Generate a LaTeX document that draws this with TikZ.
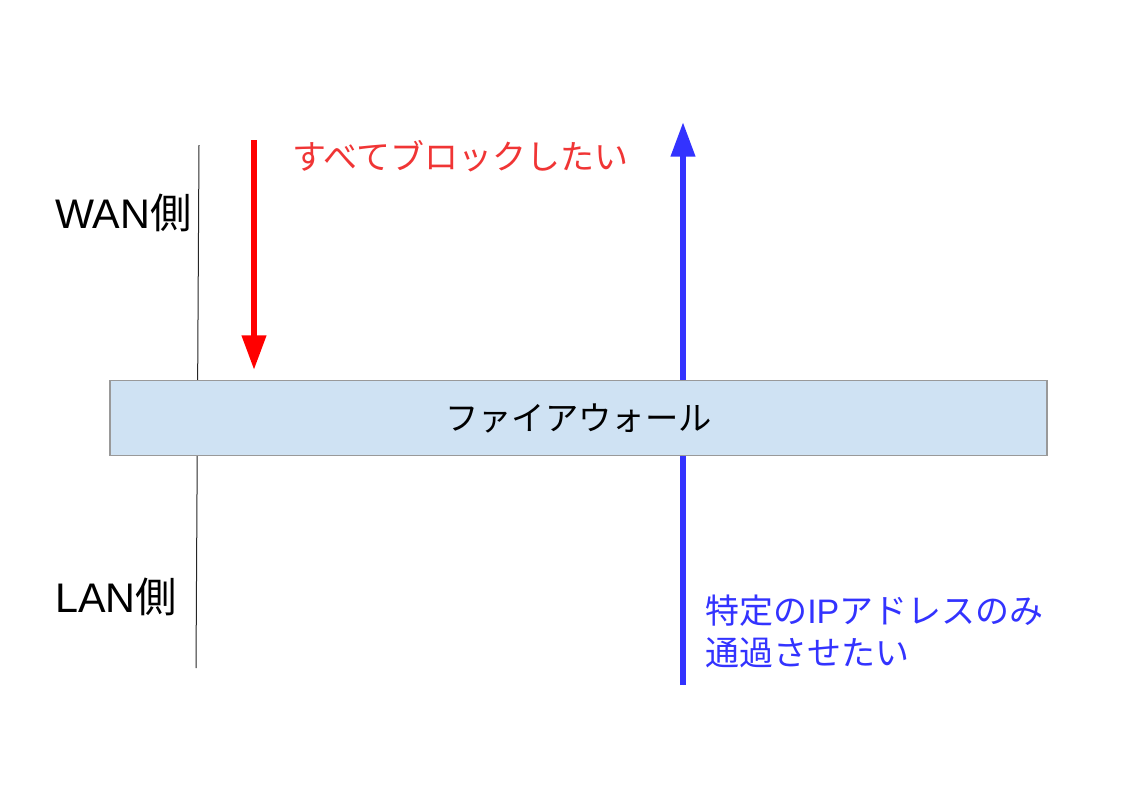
\documentclass[tikz,border=0pt]{standalone}
\usepackage{fontspec}
\setmainfont{Liberation Sans}
\newfontfamily\jp{Noto Sans CJK JP}
\usetikzlibrary{arrows.meta}
\definecolor{boxfill}{HTML}{CFE2F3}
\definecolor{boxline}{HTML}{999999}
\definecolor{arrblue}{HTML}{3333FF}
\definecolor{arrred}{HTML}{FF0000}
\definecolor{txtred}{HTML}{F03535}
\tikzset{
  sideline/.style={draw=black!85, line width=0.75pt},
  bigarrow/.style={line width=4.6pt, -{Triangle[width=17.5pt,length=26pt]}},
  sidelabel/.style={anchor=west, inner sep=0pt, font=\fontsize{31pt}{36pt}\selectfont},
  note/.style={anchor=west, inner sep=0pt, align=left, font=\jp\fontsize{25.5pt}{31.5pt}\selectfont},
  fwbox/.style={draw=boxline, fill=boxfill, line width=0.9pt, minimum width=702.75pt, minimum height=56.25pt, inner sep=0pt, font=\jp\fontsize{25pt}{30pt}\selectfont}
}
\begin{document}
\begin{tikzpicture}[x=0.75pt,y=-0.75pt]
\useasboundingbox (0,0) rectangle (1123,794);
% side line
\coordinate (lt) at (199,145);
\coordinate (lb) at (196,668);
\draw[sideline] (lt) -- (lb);
% arrows
\coordinate (rs) at (254,140);
\coordinate (re) at (254,370);
\draw[bigarrow, draw=arrred, fill=arrred] (rs) -- (re);
\coordinate (bs) at (683,685);
\coordinate (be) at (683,122);
\draw[bigarrow, draw=arrblue, fill=arrblue] (bs) -- (be);
% firewall box
\node[fwbox] (fw) at (578.5,418) {ファイアウォール};
% labels
\node[sidelabel] (wan) at (55,213) {WAN{\jp 側}};
\node[sidelabel] (lan) at (55,597) {LAN{\jp 側}};
\node[note, text=txtred] (block) at (292,156) {すべてブロックしたい};
\node[note, text=arrblue] (pass) at (705,631) {特定の{\rmfamily IP}アドレスのみ\\通過させたい};
\end{tikzpicture}
\end{document}
